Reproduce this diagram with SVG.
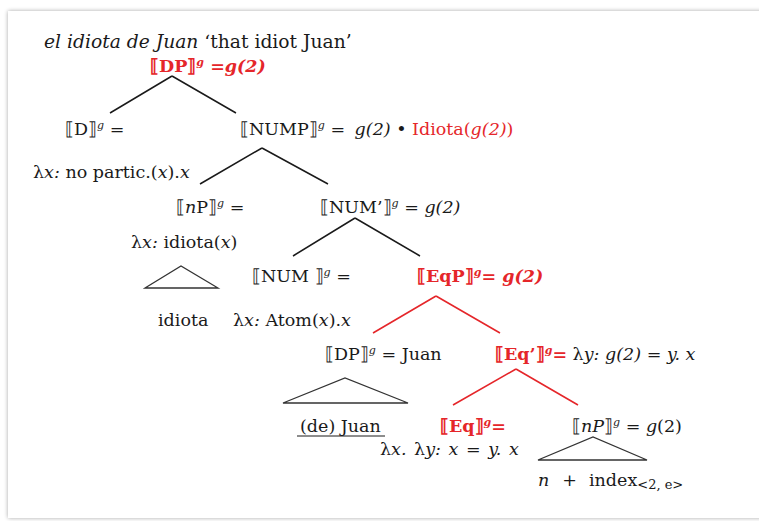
<svg xmlns="http://www.w3.org/2000/svg" width="759" height="521" viewBox="0 0 759 521">
<defs>
<filter id="sh" x="-5%" y="-5%" width="110%" height="110%">
<feGaussianBlur in="SourceAlpha" stdDeviation="2"/>
<feComponentTransfer><feFuncA type="linear" slope="0.35"/></feComponentTransfer>
<feMerge><feMergeNode/><feMergeNode in="SourceGraphic"/></feMerge>
</filter>
</defs>
<style>
.t{font-family:"DejaVu Serif","Liberation Serif",serif;font-size:17.5px;fill:#1a1a1a}
.r{fill:#e5262a}
.b{font-weight:bold}
.i{font-style:italic}
.sup{font-size:11px;font-style:italic}
.sub{font-size:13px}
.e{stroke:#1a1a1a;stroke-width:1.5;fill:none}
.re{stroke:#e5262a;stroke-width:1.6}
.tri{stroke:#333;stroke-width:1.3;fill:none}
</style>
<rect width="759" height="521" fill="#ffffff"/>
<rect x="8" y="11" width="760" height="507" fill="#ffffff" filter="url(#sh)"/>

<g id="title"><text class="t" x="44" y="48" style="font-size:18.7px"><tspan class="i">el idiota de Juan</tspan> ‘that idiot Juan’</text></g>

<g id="edges">
<path class="e" d="M172 76 L110 113 M172 76 L236 113"/>
<path class="e" d="M262 148 L200 184 M262 148 L328 184"/>
<path class="e" d="M355 218 L293 256 M355 218 L420 256"/>
<path class="e re" d="M436 296 L373 333 M436 296 L500 333"/>
<path class="e re" d="M516 369 L453 405 M516 369 L578 405"/>
</g>

<g id="n-dp"><text class="t r b" x="150" y="72">⟦DP⟧<tspan class="sup" dy="-6">g</tspan><tspan dy="6"> =</tspan><tspan class="i">g(2)</tspan></text></g>

<g id="n-d"><text class="t" x="65" y="135">⟦D⟧<tspan class="sup" dy="-6">g</tspan><tspan dy="6"> =</tspan></text>
<text class="t" x="33" y="178">λ<tspan class="i">x:</tspan> no partic.(<tspan class="i">x</tspan>).<tspan class="i">x</tspan></text></g>

<g id="n-nump"><text class="t" x="240" y="135">⟦NUMP⟧<tspan class="sup" dy="-6">g</tspan><tspan dy="6"> = </tspan><tspan class="i" dx="4">g(2)</tspan> • <tspan class="r">Idiota(<tspan class="i">g(2)</tspan>)</tspan></text></g>

<g id="n-np"><text class="t" x="176" y="213">⟦<tspan class="i">n</tspan>P⟧<tspan class="sup" dy="-6">g</tspan><tspan dy="6"> =</tspan></text>
<text class="t" x="131" y="248">λ<tspan class="i">x:</tspan> idiota(<tspan class="i">x</tspan>)</text>
<path class="tri" d="M145 288 L181 266 L218 288 Z"/>
<text class="t" x="158" y="326">idiota</text></g>

<g id="n-numbar"><text class="t" x="320" y="213">⟦NUM’⟧<tspan class="sup" dy="-6">g</tspan><tspan dy="6"> = </tspan><tspan class="i">g(2)</tspan></text></g>

<g id="n-num"><text class="t" x="252" y="282">⟦NUM ⟧<tspan class="sup" dy="-6">g</tspan><tspan dy="6"> =</tspan></text>
<text class="t" x="233" y="326">λ<tspan class="i">x:</tspan> Atom(<tspan class="i">x</tspan>).<tspan class="i">x</tspan></text></g>

<g id="n-eqp"><text class="t r b" x="417" y="282">⟦EqP⟧<tspan class="sup" dy="-6">g</tspan><tspan dy="6">=  </tspan><tspan class="i">g(2)</tspan></text></g>

<g id="n-dpjuan"><text class="t" x="325" y="360">⟦DP⟧<tspan class="sup" dy="-6">g</tspan><tspan dy="6"> = Juan</tspan></text>
<path class="tri" d="M283 403 L345 378 L408 403 Z"/>
<text class="t" x="300" y="432">(de) Juan</text>
<line x1="297" y1="436" x2="385" y2="436" stroke="#1a1a1a" stroke-width="1"/></g>

<g id="n-eqbar"><text class="t" x="495" y="360"><tspan class="r b">⟦Eq’⟧</tspan><tspan class="sup r b" dy="-6">g</tspan><tspan class="r b" dy="6">=</tspan> λ<tspan class="i">y:</tspan> <tspan class="i">g(2)</tspan> = <tspan class="i">y. x</tspan></text></g>

<g id="n-eq"><text class="t r b" x="440" y="432">⟦Eq⟧<tspan class="sup" dy="-6">g</tspan><tspan dy="6">=</tspan></text>
<text class="t" x="380" y="455" word-spacing="2">λ<tspan class="i">x.</tspan> λ<tspan class="i">y:</tspan> <tspan class="i">x</tspan> = <tspan class="i">y. x</tspan></text></g>

<g id="n-np2"><text class="t" x="572" y="432">⟦<tspan class="i">nP</tspan>⟧<tspan class="sup" dy="-6">g</tspan><tspan dy="6"> = </tspan><tspan class="i">g</tspan>(2)</text>
<path class="tri" d="M538 460 L593 437 L647 460 Z"/>
<text class="t" x="538" y="486"><tspan class="i">n</tspan><tspan dx="13">+</tspan><tspan dx="12">index</tspan><tspan class="sub" dy="3">&lt;2, e&gt;</tspan></text></g>
</svg>
